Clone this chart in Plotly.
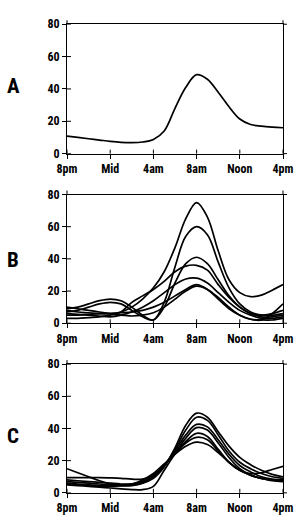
import plotly.graph_objects as go

hours = list(range(21))
tick_vals = [0, 4, 8, 12, 16, 20]
tick_text = ["8pm", "Mid", "4am", "8am", "Noon", "4pm"]
y_ticks = [0, 20, 40, 60, 80]
panel_labels = ["A", "B", "C"]

series_a = [[10.8, 10.0, 9.2, 8.4, 7.6, 7.0, 6.8, 7.2, 8.8, 14, 28, 41, 48.8, 46, 38, 29, 21.4, 18, 17, 16.4, 16]]

series_b = [
    [8, 7, 6.5, 6, 6, 7, 10, 15, 22, 32, 47, 65, 75, 66, 45, 27, 19, 16.5, 17.5, 20.5, 24],
    [9, 10, 12, 14, 15, 14, 10, 5, 2, 13, 35, 54, 60, 55, 38, 22, 12, 7, 5, 5, 6],
    [7, 8, 10, 12, 13, 12, 8, 4, 2, 10, 25, 37, 41, 37, 27, 17, 10, 6, 4, 4, 5],
    [3, 3, 3.5, 4, 5, 7, 13, 17, 21, 26, 32, 35.5, 36, 33, 24, 16, 10, 6, 5, 6, 8],
    [6, 5.5, 5, 4.5, 4, 5, 7, 10, 14, 19, 24, 27.5, 28, 25, 19, 13, 8, 5, 3, 3, 4],
    [5, 5, 5.5, 6, 6, 6.5, 7, 8, 10, 13, 17, 21, 24, 21, 15, 9, 5, 2.5, 2, 6, 12],
    [10, 9, 8, 7, 6, 5, 4.5, 5, 6.5, 10, 15, 20, 23, 21, 16, 10, 5, 2.5, 2, 2, 3],
]

series_c = [
    [6, 5.5, 5, 4.5, 4.5, 4.5, 5, 6, 9, 16, 28, 42, 49.5, 47, 38, 29, 22, 17.5, 14, 11.5, 10],
    [7, 6.5, 6, 5.5, 5, 5, 5.5, 7, 10, 17, 27, 39, 47, 45, 36, 26, 19, 15, 12, 10, 9],
    [15, 12.5, 10, 7.5, 5.5, 4.5, 4.5, 6, 10, 17, 26, 36, 42.5, 41, 33, 24, 17, 13, 10, 8.5, 8],
    [9.5, 9.5, 9.5, 9.5, 9.3, 9, 8.5, 8.5, 11, 17, 25, 34, 40.5, 39, 31, 22, 15, 11, 9, 8, 7.5],
    [8, 7.5, 7, 6.5, 6, 5.5, 5.5, 7, 11, 17, 25, 32, 37, 35, 27, 19, 14, 12, 12.5, 14.5, 16.5],
    [5, 4.5, 4, 3.5, 3, 2.5, 2, 2, 4, 14, 24, 31, 34.5, 33, 26, 19, 14, 11, 9, 8, 7.5],
    [5.5, 5, 4.5, 4, 4, 4.5, 5.5, 8, 12, 18, 24, 29, 31.5, 30, 25, 19, 14, 11, 9, 7.5, 7],
]

W, H = 297, 519
FONT = "Roboto Condensed, DejaVu Sans Condensed, sans-serif"
plot_left, plot_right = 66.7, 283.3
panel_px = [(17.7, 150.7), (192.7, 325.0), (367.0, 499.3)]
domains = [[1 - b / H, 1 - t / H] for t, b in panel_px]
label_y = [0.52, 0.49, 0.44]

fig = go.Figure()
layout = dict(
    width=W, height=H,
    margin=dict(l=plot_left, r=W - plot_right, t=0, b=0, pad=0),
    plot_bgcolor="white", paper_bgcolor="white",
    showlegend=False,
    font=dict(family=FONT, color="black", size=12, weight="bold"),
)
shapes = []
annotations = []
ln = dict(color="black", width=1)
for i, group in enumerate([series_a, series_b, series_c]):
    n = "" if i == 0 else str(i + 1)
    for s in group:
        fig.add_trace(go.Scatter(x=hours, y=s, mode="lines",
                                 line=dict(color="black", width=1.7, shape="spline", smoothing=1.0),
                                 xaxis="x" + n, yaxis="y" + n, hoverinfo="skip"))
    axis_common = dict(showgrid=False, zeroline=False, showline=True, linecolor="black", linewidth=1,
                       mirror=True, ticks="outside", ticklen=4, tickwidth=1, tickcolor="black",
                       tickfont=dict(family=FONT, size=12, color="black", weight="bold"))
    layout["xaxis" + n] = dict(domain=[0, 1], anchor="y" + n, range=[0, 20],
                               tickvals=tick_vals, ticktext=tick_text, **axis_common)
    layout["yaxis" + n] = dict(domain=domains[i], anchor="x" + n, range=[0, 80],
                               tickvals=y_ticks, **axis_common)
    xr = "x" + n + " domain"
    yr = "y" + n + " domain"
    # inner halves of the crossing ticks
    for tv in tick_vals:
        shapes.append(dict(type="line", xref="x" + n, yref=yr, x0=tv, x1=tv,
                           ysizemode="pixel", yanchor=0, y0=0, y1=4, line=ln))
    for tv in y_ticks:
        shapes.append(dict(type="line", xref=xr, yref="y" + n, y0=tv, y1=tv,
                           xsizemode="pixel", xanchor=0, x0=0, x1=4, line=ln))
    # corner extensions
    shapes.append(dict(type="line", xref=xr, yref=yr, x0=0, x1=0, ysizemode="pixel", yanchor=1, y0=0, y1=4, line=ln))
    shapes.append(dict(type="line", xref=xr, yref=yr, x0=1, x1=1, ysizemode="pixel", yanchor=1, y0=0, y1=4, line=ln))
    shapes.append(dict(type="line", xref=xr, yref=yr, xsizemode="pixel", xanchor=1, x0=0, x1=4, y0=1, y1=1, line=ln))
    shapes.append(dict(type="line", xref=xr, yref=yr, xsizemode="pixel", xanchor=1, x0=0, x1=4, y0=0, y1=0, line=ln))
    annotations.append(dict(text=panel_labels[i], xref="paper", yref=yr,
                            x=(13 - plot_left) / (plot_right - plot_left), y=label_y[i],
                            xanchor="center", yanchor="middle", showarrow=False,
                            font=dict(family=FONT, size=21, color="black", weight="bold")))

layout["shapes"] = shapes
layout["annotations"] = annotations
fig.update_layout(**layout)
page_fix = ("document.documentElement.style.margin='0';document.body.style.margin='0';"
            "document.documentElement.style.overflow='hidden';document.body.style.overflow='hidden';")
fig.write_html("out.html", post_script=page_fix, config={"displayModeBar": False, "staticPlot": True})
